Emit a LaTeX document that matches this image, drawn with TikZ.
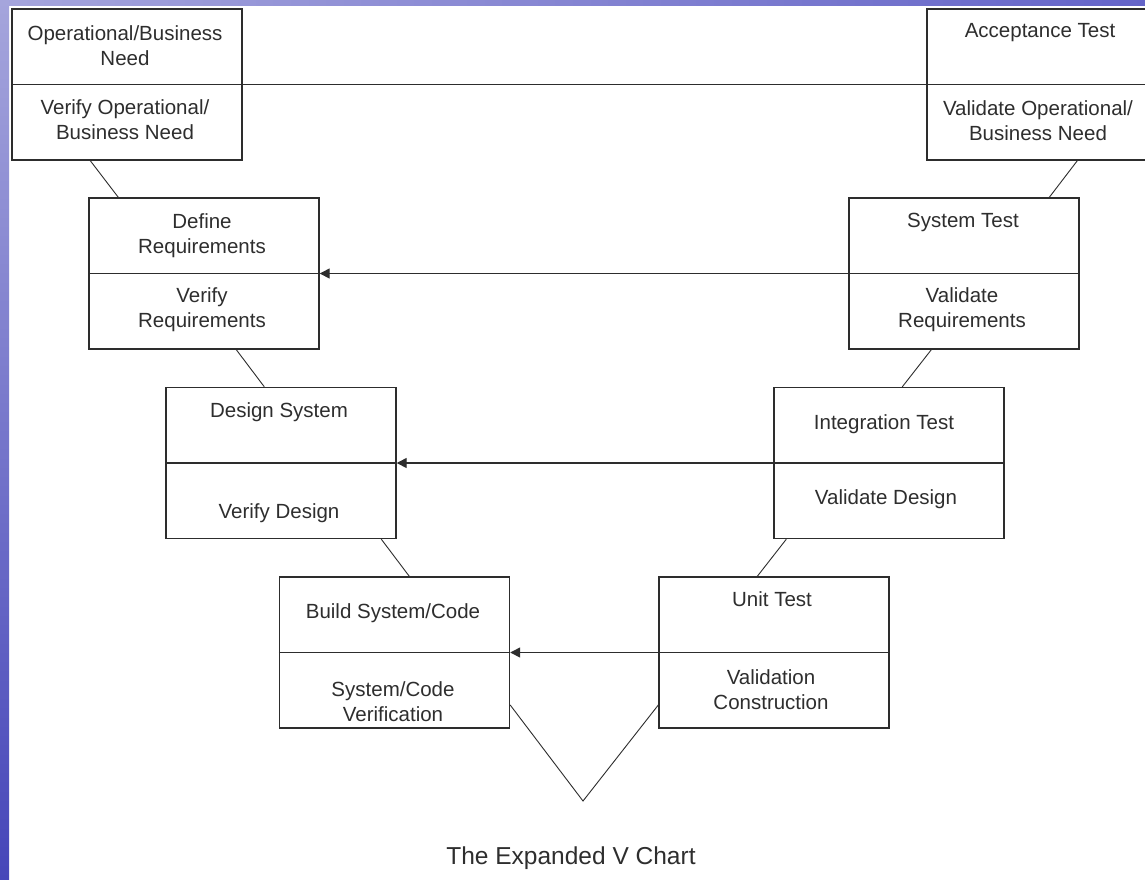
\documentclass[tikz,border=0pt]{standalone}
\usepackage{fontspec}
\setmainfont{Liberation Sans}
\usetikzlibrary{calc,arrows.meta}
\definecolor{stripA}{RGB}{165,165,220}
\definecolor{stripB}{RGB}{100,100,200}
\definecolor{stripC}{RGB}{70,70,185}
\definecolor{linec}{RGB}{45,45,45}
\tikzset{
  vbox/.style={draw=linec, line width=1.4pt, rectangle, minimum width=230pt, minimum height=151pt, inner sep=0pt},
  ln/.style={draw=linec, line width=1.4pt},
  diag/.style={draw=linec, line width=0.9pt},
  arr/.style={draw=linec, line width=1.4pt, -{Triangle[length=10pt,width=10pt]}},
  lbl/.style={align=center, inner sep=0pt, text=black!82, font=\fontsize{20.5}{25}\selectfont},
  captext/.style={inner sep=0pt, text=black!82, font=\fontsize{24.5}{29}\selectfont}
}
\begin{document}
\begin{tikzpicture}[x=1pt,y=-1pt]
\clip (0,0) rectangle (1145,879);
\fill[white] (0,0) rectangle (1145,879);
\shade[top color=stripA, bottom color=stripC] (0,0) rectangle (9,879);
\shade[left color=stripA, right color=stripB] (0,0) rectangle (1145,5);

% boxes
\node[vbox] (ob)  at (127,84.5) {};
\node[vbox] (acc) at (1042,84.5) {};
\node[vbox] (dr)  at (204,273.5) {};
\node[vbox] (st)  at (964,273.5) {};
\node[vbox] (ds)  at (281,463) {};
\node[vbox] (it)  at (889,463) {};
\node[vbox] (bs)  at (394.5,652.5) {};
\node[vbox] (ut)  at (774,652.5) {};

% dividers
\foreach \b in {ob,acc,dr,st,ds,it,bs,ut}{\draw[ln] (\b.west) -- (\b.east);}

% horizontal links
\draw[ln] (ob.east) -- (acc.west);
\draw[arr] (st.west) -- (dr.east);
\draw[arr] (it.west) -- (ds.east);
\draw[arr] (ut.west) -- (bs.east);

% diagonal links
\draw[diag] ($(ob.south west)+(79,0)$) -- ($(dr.north west)+(30,0)$);
\draw[diag] ($(acc.south west)+(151,0)$) -- ($(st.north west)+(201,0)$);
\draw[diag] ($(dr.south west)+(148,0)$) -- ($(ds.north west)+(99,0)$);
\draw[diag] ($(st.south west)+(83,0)$) -- ($(it.north west)+(129,0)$);
\draw[diag] ($(ds.south west)+(216,0)$) -- ($(bs.north west)+(130.5,0)$);
\draw[diag] ($(it.south west)+(13,0)$) -- ($(ut.north west)+(99,0)$);

% V
\coordinate (vb) at (583,801);
\draw[diag] ($(bs.east)+(0,52.5)$) -- (vb) -- ($(ut.west)+(0,52.5)$);

% texts
\node[lbl] (t1) at (125,45.5) {Operational/Business\\Need};
\node[lbl] (t2) at (125,120) {Verify Operational/\\Business Need};
\node[lbl] (t3) at (1040,33) {Acceptance Test};
\node[lbl] (t4) at (1038,121) {Validate Operational/\\Business Need};
\node[lbl] (t5) at (202,235.5) {Define\\Requirements};
\node[lbl] (t6) at (202,309.5) {Verify\\Requirements};
\node[lbl] (t7) at (963,222) {System Test};
\node[lbl] (t8) at (962,309.5) {Validate\\Requirements};
\node[lbl] (t9) at (279,412) {Design System};
\node[lbl] (t10) at (279,513) {Verify Design};
\node[lbl] (t11) at (884,424) {Integration Test};
\node[lbl] (t12) at (886,499) {Validate Design};
\node[lbl] (t13) at (393,613) {Build System/Code};
\node[lbl] (t14) at (393,701.5) {System/Code\\Verification};
\node[lbl] (t15) at (772,599) {Unit Test};
\node[lbl] (t16) at (771,689.5) {Validation\\Construction};
\node[captext] (captxt) at (571,858) {The Expanded V Chart};
\end{tikzpicture}
\end{document}
